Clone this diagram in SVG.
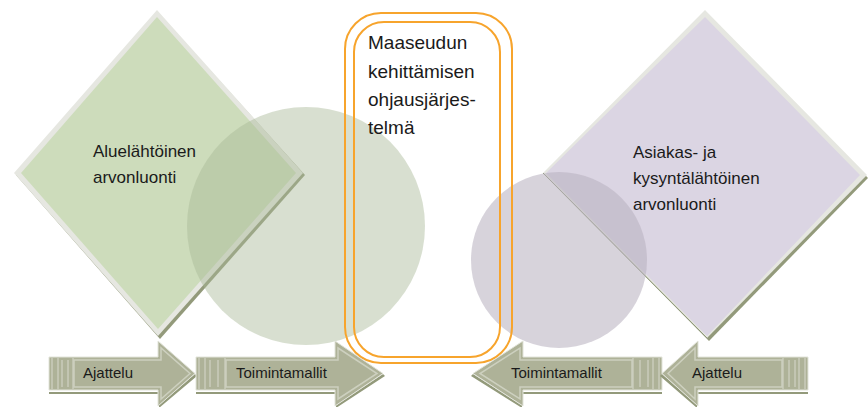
<svg xmlns="http://www.w3.org/2000/svg" width="868" height="407" viewBox="0 0 868 407">
<style>
text{font-family:"Liberation Sans",Arial,sans-serif;fill:#1a1a1a}
.dt{font-size:17px}
.ct{font-size:19px}
.at{font-size:15px}
.border{fill:#e6e7e1}
.shadow{fill:#939a7b}
.orange{fill:none;stroke:#f7a42c;stroke-width:2}
.arrow{fill:#aeb298;stroke:#e2e4da;stroke-width:1}
.arrowIn{fill:none;stroke:#cdd0bf;stroke-width:1.5}
.stripe{fill:none;stroke:#d0d3c4;stroke-width:1.2}
</style>
<rect width="868" height="407" fill="#ffffff"/>

<g id="node-aluelahtoinen">
  <polygon class="shadow" points="157,12 305,175 160,339 16,175"/>
  <polygon class="border" points="157,10 303,173 158,336 14,173"/>
  <polygon fill="#cddcbb" points="157,17 296,173 158,329 21,173"/>
</g>

<g id="node-asiakas">
  <polygon class="shadow" points="705,12 868,178 709,341 545,175"/>
  <polygon class="border" points="705,10 867,175 707,338 543,173"/>
  <polygon fill="#dbd5e3" points="705,17 860,175 707,336 546,173"/>
  <line x1="543" y1="173" x2="707" y2="338" stroke="#8d9577" stroke-width="1"/>
</g>

<g id="circles">
  <circle cx="306" cy="226" r="119" fill="#a9b897" fill-opacity="0.45"/>
  <circle cx="559" cy="260" r="88" fill="#b8b1c0" fill-opacity="0.57"/>
</g>

<g id="node-maaseudun">
  <rect class="orange" x="345" y="13" width="167" height="350" rx="36" ry="36"/>
  <rect class="orange" x="354" y="22" width="146" height="335" rx="30" ry="30"/>
  <text class="ct" x="368" y="49">Maaseudun</text>
  <text class="ct" x="368" y="78">kehittämisen</text>
  <text class="ct" x="368" y="106">ohjausjärjes-</text>
  <text class="ct" x="368" y="134">telmä</text>
</g>

<g id="labels-diamonds">
  <text class="dt" x="93" y="157">Aluelähtöinen</text>
  <text class="dt" x="93" y="183">arvonluonti</text>
  <text class="dt" x="633" y="158">Asiakas- ja</text>
  <text class="dt" x="633" y="184">kysyntälähtöinen</text>
  <text class="dt" x="633" y="210">arvonluonti</text>
</g>

<g id="connectors">
  <g id="arrow-ajattelu-left">
    <path class="shadow" d="M49,392 H158 V406 L195,374 L197,376 L159,408 V394 H49 Z"/>
    <path class="arrow" d="M49,357 H158 V341 L195,373.5 L158,406 V390 H49 Z"/>
    <path class="arrowIn" d="M74,360 H161 V348 L190,373.5 L161,399 V387 H74 Z"/>
    <path class="stripe" d="M52,358 V389 M58,358 V389 M62,360 V387 M68,360 V387 M73,358 V389"/>
    <text class="at" x="83" y="378">Ajattelu</text>
  </g>
  <g id="arrow-toimintamallit-left">
    <path class="shadow" d="M196,392 H335 V406 L383,374 L385,376 L336,408 V394 H196 Z"/>
    <path class="arrow" d="M196,357 H335 V341 L383,373.5 L335,406 V390 H196 Z"/>
    <path class="arrowIn" d="M226,360 H338 V348 L377,373.5 L338,399 V387 H226 Z"/>
    <path class="stripe" d="M199,358 V389 M205,358 V389 M210,360 V387 M218,360 V387 M225,358 V389"/>
    <text class="at" x="236" y="378">Toimintamallit</text>
  </g>
  <g id="arrow-toimintamallit-right">
    <path class="shadow" d="M662,392 H523 V406 L473,374 L471,376 L522,408 V394 H662 Z"/>
    <path class="arrow" d="M662,357 H523 V341 L473,373.5 L523,406 V390 H662 Z"/>
    <path class="arrowIn" d="M632,360 H520 V348 L480,373.5 L520,399 V387 H632 Z"/>
    <path class="stripe" d="M659,358 V389 M653,358 V389 M648,360 V387 M640,360 V387 M633,358 V389"/>
    <text class="at" x="511" y="378">Toimintamallit</text>
  </g>
  <g id="arrow-ajattelu-right">
    <path class="shadow" d="M808,392 H698 V406 L662,374 L660,376 L697,408 V394 H808 Z"/>
    <path class="arrow" d="M808,357 H698 V341 L662,373.5 L698,406 V390 H808 Z"/>
    <path class="arrowIn" d="M782,360 H695 V348 L668,373.5 L695,399 V387 H782 Z"/>
    <path class="stripe" d="M805,358 V389 M799,358 V389 M795,360 V387 M789,360 V387 M783,358 V389"/>
    <text class="at" x="692" y="378">Ajattelu</text>
  </g>
</g>
</svg>
